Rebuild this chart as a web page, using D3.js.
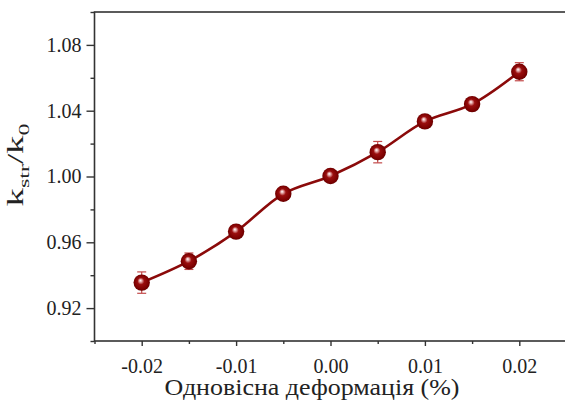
<!DOCTYPE html>
<html>
<head>
<meta charset="utf-8">
<script src="https://cdn.jsdelivr.net/npm/d3@7"></script>
<style>
  html, body { margin: 0; padding: 0; background: #fff; }
  svg { display: block; }
</style>
</head>
<body>
<script>
// Uniaxial strain (%) and the normalised rate ratio k_str/k_0
const strain = [-0.02, -0.015, -0.01, -0.005, 0.0, 0.005, 0.01, 0.015, 0.02];
const ratio  = [0.9355, 0.9485, 0.9665, 0.9895, 1.0003, 1.0148, 1.0335, 1.0440, 1.0637];
const errors = [0.0065, 0.0050, 0.0030, 0.0030, 0.0030, 0.0065, 0.0030, 0.0030, 0.0055];

const xTicks = [-0.02, -0.01, 0.00, 0.01, 0.02];
const xMinorTicks = [-0.025, -0.015, -0.005, 0.005, 0.015, 0.025];
const yTicks = [0.92, 0.96, 1.00, 1.04, 1.08];
const yMinorTicks = [0.90, 0.94, 0.98, 1.02, 1.06, 1.10];

const xTitle = "Одновісна деформація (%)";

const FONT = '"Liberation Serif"';
const W = 565, H = 400;
const margin = { left: 94.5, top: 12, right: -1.5, bottom: 59 };

const svg = d3.select("body").append("svg")
  .attr("width", W).attr("height", H);

const x = d3.scaleLinear().domain([-0.025, 0.025])
  .range([margin.left, W - margin.right]);
const y = d3.scaleLinear().domain([0.90, 1.10])
  .range([H - margin.bottom, margin.top]);

// plain hyphen for negative tick labels
const fmt = d => d3.format(".2f")(d).replace("\u2212", "-");

// sphere-like marker fill
const defs = svg.append("defs");
const grad = defs.append("radialGradient").attr("id", "ball")
  .attr("cx", "50%").attr("cy", "50%").attr("r", "55%")
  .attr("fx", "42%").attr("fy", "36%");
grad.append("stop").attr("offset", "0%").attr("stop-color", "#ffffff");
grad.append("stop").attr("offset", "14%").attr("stop-color", "#e8b0b0");
grad.append("stop").attr("offset", "38%").attr("stop-color", "#9a0e0e");
grad.append("stop").attr("offset", "80%").attr("stop-color", "#7a0000");
grad.append("stop").attr("offset", "100%").attr("stop-color", "#5a0000");

const axisColor = "#333";

// frame
svg.append("rect")
  .attr("x", x(-0.025)).attr("y", y(1.10))
  .attr("width", x(0.025) - x(-0.025)).attr("height", y(0.90) - y(1.10))
  .attr("fill", "none").attr("stroke", axisColor).attr("stroke-width", 1.6);

// x axis: major + minor ticks, outward
const xAxisG = svg.append("g")
  .attr("transform", `translate(0,${y(0.90)})`);
xAxisG.call(d3.axisBottom(x).tickValues(xTicks).tickSize(5).tickPadding(13)
  .tickFormat(fmt));
xAxisG.append("g").call(d3.axisBottom(x).tickValues(xMinorTicks).tickSize(3).tickFormat(""));
xAxisG.selectAll(".domain").remove();
xAxisG.selectAll("line").attr("stroke", axisColor).attr("stroke-width", 1.4);
xAxisG.selectAll("text").attr("font-size", 20).attr("fill", "#222")
  .style("font-family", FONT);

// y axis: major + minor ticks, outward
const yAxisG = svg.append("g")
  .attr("transform", `translate(${x(-0.025)},0)`);
yAxisG.call(d3.axisLeft(y).tickValues(yTicks).tickSize(8).tickPadding(5)
  .tickFormat(fmt));
yAxisG.append("g").call(d3.axisLeft(y).tickValues(yMinorTicks).tickSize(4).tickFormat(""));
yAxisG.selectAll(".domain").remove();
yAxisG.selectAll("line").attr("stroke", axisColor).attr("stroke-width", 1.4);
yAxisG.selectAll("text").attr("font-size", 20).attr("fill", "#222")
  .style("font-family", FONT);

// axis titles
svg.append("text")
  .attr("x", 312).attr("y", 395)
  .attr("text-anchor", "middle").attr("font-size", 23)
  .attr("textLength", 295).attr("lengthAdjust", "spacingAndGlyphs")
  .style("font-family", FONT).attr("fill", "#222")
  .text(xTitle);

// rotated y title, widened along its baseline
const yt = svg.append("text")
  .attr("transform", "translate(23,165) rotate(-90) scale(1.6,1)")
  .attr("text-anchor", "middle").attr("font-size", 23)
  .style("font-family", FONT).attr("fill", "#222");
yt.append("tspan").text("k");
yt.append("tspan").attr("font-size", 15).attr("dy", 6).text("str");
yt.append("tspan").attr("dy", -6).text("/k");
yt.append("tspan").attr("font-size", 15).attr("dy", 6).text("0");

const data = strain.map((s, i) => ({ s, v: ratio[i], e: errors[i] }));

// connecting spline
const line = d3.line()
  .x(d => x(d.s)).y(d => y(d.v))
  .curve(d3.curveCatmullRom.alpha(0.5));
svg.append("path").datum(data)
  .attr("d", line)
  .attr("fill", "none").attr("stroke", "#8b0a0a").attr("stroke-width", 2.6);

// error bars
const eb = svg.append("g").attr("stroke", "#c24a4a").attr("stroke-width", 1.2);
data.forEach(d => {
  const cx = x(d.s);
  eb.append("line").attr("x1", cx).attr("x2", cx)
    .attr("y1", y(d.v - d.e)).attr("y2", y(d.v + d.e));
  [d.v - d.e, d.v + d.e].forEach(v => {
    eb.append("line").attr("x1", cx - 4.5).attr("x2", cx + 4.5)
      .attr("y1", y(v)).attr("y2", y(v));
  });
});

// markers
svg.append("g").selectAll("circle").data(data).join("circle")
  .attr("cx", d => x(d.s)).attr("cy", d => y(d.v))
  .attr("r", 8.2).attr("fill", "url(#ball)");
</script>
</body>
</html>
